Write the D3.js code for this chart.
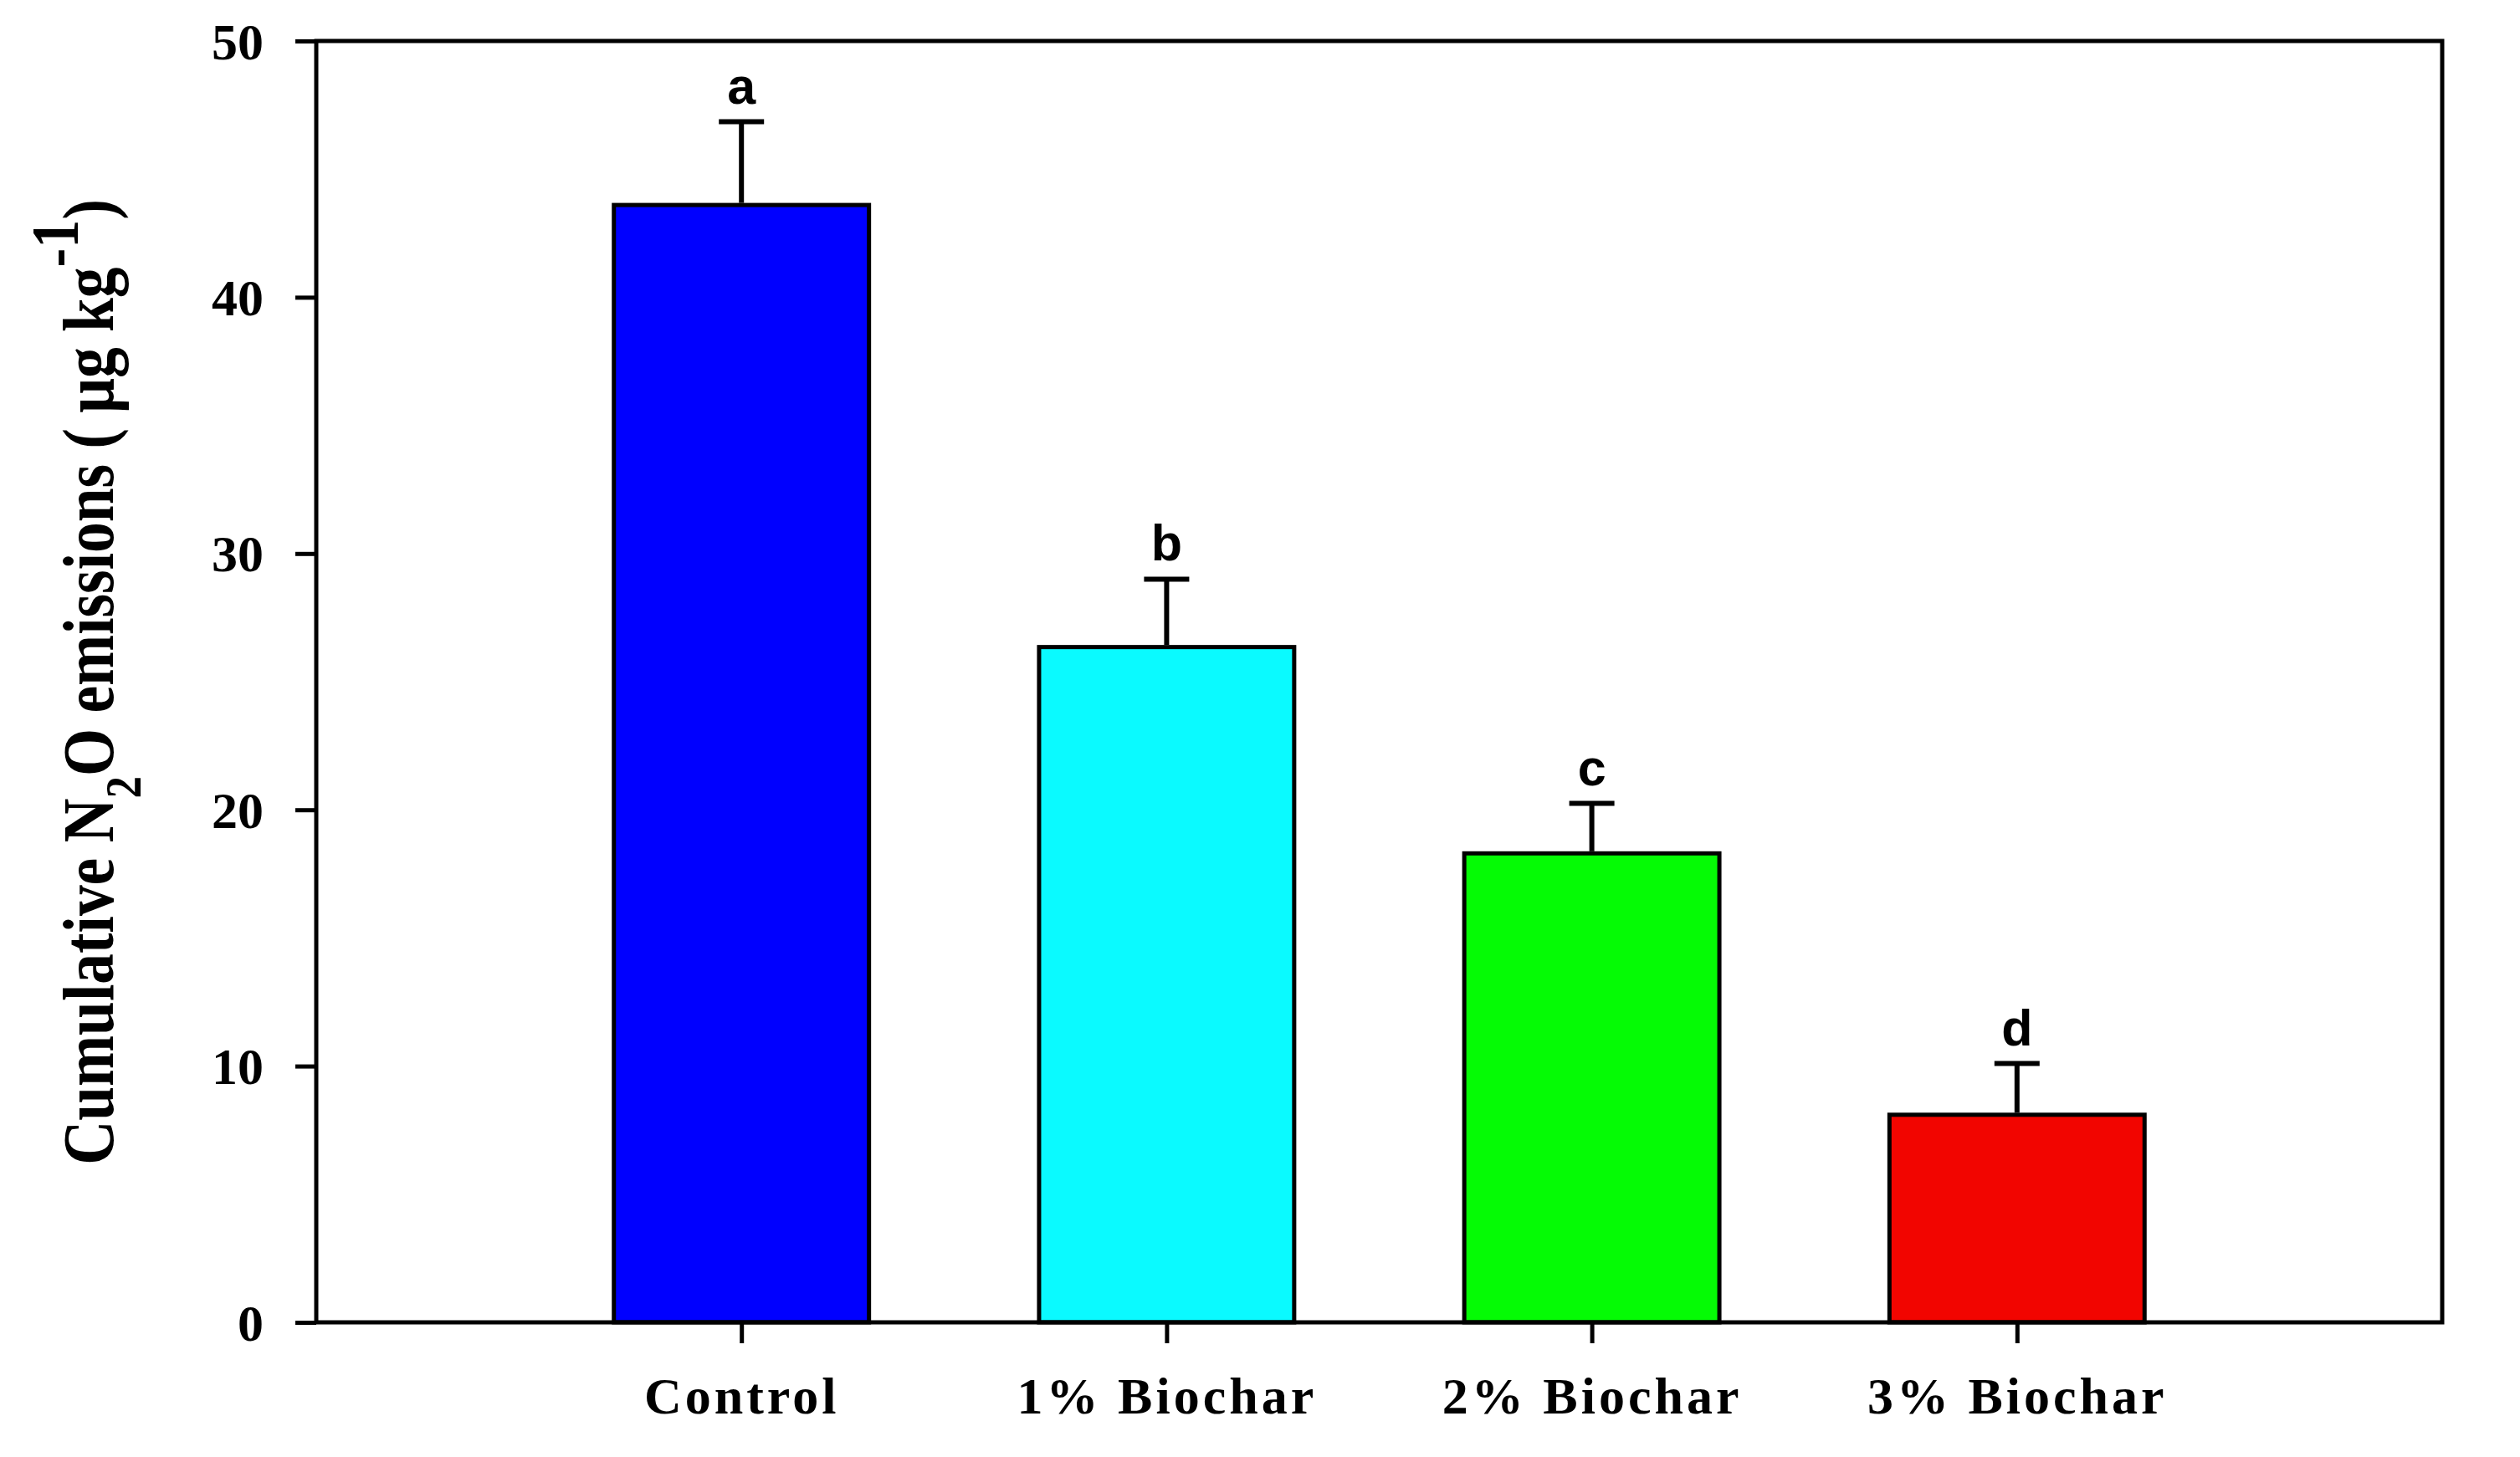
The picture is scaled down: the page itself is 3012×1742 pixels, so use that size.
<!DOCTYPE html>
<html>
<head>
<meta charset="utf-8">
<script src="https://cdn.jsdelivr.net/npm/d3@7"></script>
<style>
  html, body { margin: 0; padding: 0; background: #fff; }
  svg { display: block; }
</style>
</head>
<body>
<svg id="chart" width="3012" height="1742"></svg>
<script>
// ---- data ----
const categories = ["Control", "1% Biochar", "2% Biochar", "3% Biochar"];
const positions = [1, 2, 3, 4];
const values = [43.6, 26.35, 18.3, 8.1];
const errors = [3.25, 2.65, 1.95, 2.0];
const letters = ["a", "b", "c", "d"];
const colors = ["#0000ff", "#0afaff", "#05fb05", "#f20500"];
const yTicks = [0, 10, 20, 30, 40, 50];

(function () {
// ---- layout ----
const svg = d3.select("#chart");
const pL = 378, pR = 2919, pT = 49, pB = 1581;
const serif = "'Liberation Serif', 'Times New Roman', serif";
const sans = "'Liberation Sans', Arial, sans-serif";

const x = d3.scaleLinear().domain([0, 5]).range([pL, pR]);
const y = d3.scaleLinear().domain([0, 50]).range([pB, pT]);
const barW = (x(1) - x(0)) * 0.6;

// bars
svg.append("g").selectAll("rect").data(values).join("rect")
  .attr("x", (d, i) => x(positions[i]) - barW / 2)
  .attr("y", d => y(d))
  .attr("width", barW)
  .attr("height", d => y(0) - y(d))
  .attr("fill", (d, i) => colors[i])
  .attr("stroke", "#000")
  .attr("stroke-width", 5);

// error bars (upper only)
const eb = svg.append("g").attr("stroke", "#000").attr("stroke-width", 6);
values.forEach((v, i) => {
  const cx = x(positions[i]);
  eb.append("line").attr("x1", cx).attr("x2", cx)
    .attr("y1", y(v) - 2.5).attr("y2", y(v + errors[i]));
  eb.append("line").attr("x1", cx - 27).attr("x2", cx + 27)
    .attr("y1", y(v + errors[i])).attr("y2", y(v + errors[i]));
});

// significance letters
svg.append("g").selectAll("text").data(letters).join("text")
  .attr("x", (d, i) => x(positions[i]))
  .attr("y", (d, i) => y(values[i] + errors[i]) - 22)
  .attr("text-anchor", "middle")
  .attr("font-family", sans)
  .attr("font-weight", "bold")
  .attr("font-size", 61)
  .attr("fill", "#000")
  .text(d => d);

// frame
svg.append("rect")
  .attr("x", pL).attr("y", pT)
  .attr("width", pR - pL).attr("height", pB - pT)
  .attr("fill", "none").attr("stroke", "#000").attr("stroke-width", 5);

// y axis
const yAxis = svg.append("g")
  .attr("transform", `translate(${pL},0)`)
  .call(d3.axisLeft(y).tickValues(yTicks).tickSize(25).tickPadding(38).tickFormat(d3.format("d")));
yAxis.select(".domain").remove();
yAxis.selectAll(".tick line").attr("stroke", "#000").attr("stroke-width", 5);
yAxis.selectAll(".tick text")
  .attr("font-family", serif).attr("font-weight", "bold")
  .attr("font-size", 62).attr("fill", "#000").attr("dy", "0.34em");

// x axis
const xAxis = svg.append("g")
  .attr("transform", `translate(0,${pB})`)
  .call(d3.axisBottom(x).tickValues(positions).tickSize(25)
    .tickFormat((d, i) => categories[i]));
xAxis.select(".domain").remove();
xAxis.selectAll(".tick line").attr("stroke", "#000").attr("stroke-width", 5);
xAxis.selectAll(".tick text")
  .attr("font-family", serif).attr("font-weight", "bold")
  .attr("font-size", 62).attr("fill", "#000")
  .attr("letter-spacing", 4)
  .attr("y", 109).attr("dy", 0);

// y title
const title = svg.append("text")
  .attr("font-family", serif).attr("font-weight", "bold")
  .attr("font-size", 86).attr("fill", "#000")
  .attr("text-anchor", "middle");
title.append("tspan").text("Cumulative N");
title.append("tspan").attr("font-size", 62).attr("dy", 33).text("2");
title.append("tspan").attr("dy", -33).text("O emissions ( \u03bcg kg");
title.append("tspan").attr("font-size", 80).attr("dy", -42).text("-1");
title.append("tspan").attr("dy", 42).text(")");
const natural = title.node().getComputedTextLength();
const k = 1155 / natural;
title.attr("transform", `translate(135,815.5) rotate(-90) scale(${k},1)`);
})();
</script>
</body>
</html>
